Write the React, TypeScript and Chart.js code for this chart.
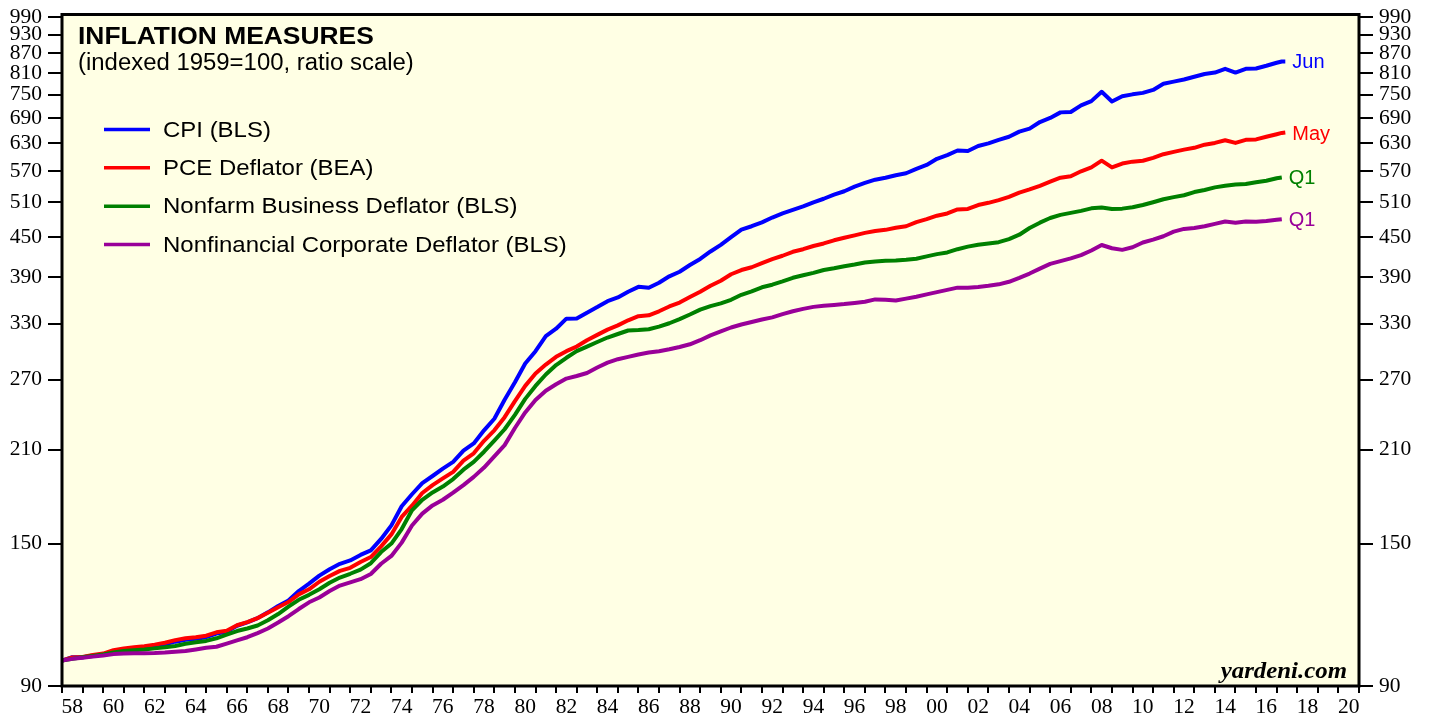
import React, { useEffect, useRef } from "react";
import { Chart, registerables } from "chart.js";

Chart.register(...registerables);

// ---------- DATA ----------
const periods = [
  1958, 1958.5, 1959, 1959.5, 1960, 1960.5, 1961, 1961.5, 1962, 1962.5,
  1963, 1963.5, 1964, 1964.5, 1965, 1965.5, 1966, 1966.5, 1967, 1967.5,
  1968, 1968.5, 1969, 1969.5, 1970, 1970.5, 1971, 1971.5, 1972, 1972.5,
  1973, 1973.5, 1974, 1974.5, 1975, 1975.5, 1976, 1976.5, 1977, 1977.5,
  1978, 1978.5, 1979, 1979.5, 1980, 1980.5, 1981, 1981.5, 1982, 1982.5,
  1983, 1983.5, 1984, 1984.5, 1985, 1985.5, 1986, 1986.5, 1987, 1987.5,
  1988, 1988.5, 1989, 1989.5, 1990, 1990.5, 1991, 1991.5, 1992, 1992.5,
  1993, 1993.5, 1994, 1994.5, 1995, 1995.5, 1996, 1996.5, 1997, 1997.5,
  1998, 1998.5, 1999, 1999.5, 2000, 2000.5, 2001, 2001.5, 2002, 2002.5,
  2003, 2003.5, 2004, 2004.5, 2005, 2005.5, 2006, 2006.5, 2007, 2007.5,
  2008, 2008.5, 2009, 2009.5, 2010, 2010.5, 2011, 2011.5, 2012, 2012.5,
  2013, 2013.5, 2014, 2014.5, 2015, 2015.5, 2016, 2016.5, 2017, 2017.25,
  2017.42,
];

const cpi = [
  98.6, 99.8, 99.8, 100.4, 100.8, 101.7, 102.3, 102.7, 103.1, 103.8,
  104.5, 105.5, 106.2, 106.6, 107.2, 108.6, 109.3, 111.7, 113.1, 114.8,
  117.2, 119.9, 122.3, 126.5, 129.9, 133.7, 136.8, 139.5, 141.2, 144.0,
  146.4, 152.5, 160.1, 171.5, 179.0, 186.3, 191.1, 196.2, 201.0, 209.3,
  214.8, 225.1, 234.7, 251.2, 267.4, 286.0, 299.0, 315.5, 324.1, 336.0,
  336.1, 343.3, 350.2, 357.7, 362.5, 370.1, 376.6, 375.3, 382.1, 391.1,
  397.6, 407.2, 416.2, 427.5, 437.8, 450.0, 462.5, 468.0, 474.6, 482.8,
  490.0, 496.2, 502.4, 510.0, 516.5, 524.1, 530.6, 539.5, 546.7, 553.0,
  557.0, 562.0, 566.0, 575.0, 583.0, 596.0, 604.0, 614.0, 613.0, 624.0,
  630.0, 638.0, 645.0, 657.0, 664.0, 680.0, 690.0, 704.0, 705.0, 722.0,
  733.0, 758.0, 732.0, 746.0, 751.0, 755.0, 763.0, 780.0, 786.0, 792.0,
  800.0, 808.0, 812.0, 823.0, 812.0, 823.0, 824.0, 832.0, 841.0, 845.0,
  845.0,
];

const pce = [
  98.6, 99.7, 99.9, 100.6, 101.1, 102.3, 103.0, 103.4, 103.8, 104.4,
  105.1, 106.1, 106.8, 107.2, 107.8, 109.1, 109.7, 111.9, 113.2, 114.8,
  117.0, 119.4, 121.6, 125.0, 127.3, 130.8, 133.5, 136.0, 137.5, 140.4,
  142.9, 148.5, 155.0, 165.0, 171.8, 179.8, 185.0, 189.5, 194.0, 202.0,
  207.3, 216.8, 225.1, 236.0, 250.0, 264.0, 276.0, 285.0, 293.0, 299.0,
  304.0, 311.0, 317.0, 323.0, 328.0, 334.0, 339.0, 340.0, 345.0, 351.0,
  356.0, 363.0, 370.0, 378.0, 385.0, 394.0, 400.0, 404.0, 410.0, 416.0,
  421.0, 427.0, 431.0, 436.0, 440.0, 445.0, 449.0, 453.0, 457.0, 460.0,
  462.0, 465.5, 468.0, 475.0, 480.0, 486.0, 490.0, 497.0, 498.0, 505.0,
  509.0, 514.0, 520.0, 528.0, 534.0, 541.0, 549.0, 557.0, 560.0, 570.0,
  578.0, 592.0, 578.0, 586.0, 590.0, 592.0, 598.0, 606.0, 611.0, 616.0,
  620.0, 627.0, 631.0, 637.0, 631.0, 638.0, 639.0, 645.0, 651.0, 654.0,
  655.0,
];

const nonfarmBusiness = [
  98.6, 99.2, 99.8, 100.2, 100.8, 101.5, 102.0, 102.3, 102.6, 103.0,
  103.4, 103.9, 104.7, 105.3, 105.8, 106.8, 108.2, 109.6, 110.6, 111.8,
  113.9, 116.5, 119.6, 122.6, 124.8, 127.3, 130.3, 132.8, 134.6, 136.6,
  139.8, 145.5, 150.0, 158.0, 169.0, 175.5, 180.2, 184.0, 189.0, 195.5,
  201.0, 208.5, 217.0, 226.0, 238.0, 252.0, 264.0, 275.0, 284.5, 292.0,
  299.0, 304.0, 309.0, 314.0, 318.0, 322.0, 322.5, 323.5, 326.5, 330.5,
  335.5, 341.0, 347.0, 351.5, 355.0, 359.5, 366.0, 370.5, 376.0, 379.5,
  384.0, 389.0, 392.5, 396.0, 400.0, 402.5, 405.5, 408.0, 411.0, 412.5,
  413.5, 414.0, 415.0, 416.5, 420.0, 423.5, 426.0, 431.0, 435.0, 438.0,
  440.0, 442.0, 447.0, 454.0, 465.0, 474.0, 482.0, 487.5, 491.0, 494.5,
  499.0, 500.5, 498.0, 498.5, 501.0, 505.0, 510.0, 515.5, 519.5, 523.0,
  529.0, 533.0, 538.0, 541.0, 543.5, 544.5, 548.0, 551.0, 556.0, 557.5,
  null,
];

const nonfinancialCorporate = [
  98.6, 99.2, 99.6, 100.0, 100.4, 100.9, 101.1, 101.2, 101.2, 101.3,
  101.5, 101.8, 102.0, 102.6, 103.2, 103.6, 104.8, 106.0, 107.2, 108.8,
  110.6, 113.0, 115.6, 118.6, 121.5, 123.6, 126.5, 129.0, 130.5, 132.0,
  134.5, 139.5, 143.5, 150.5, 160.0, 167.0, 172.0, 175.5, 180.0, 185.0,
  190.5, 197.0, 205.0, 213.5, 227.0, 240.0, 251.0, 259.5, 265.5, 271.0,
  273.5, 276.5, 282.0, 287.0, 290.5, 293.0, 295.5, 297.5, 299.0, 301.0,
  303.5, 306.5, 311.0, 316.5, 321.0, 325.5, 329.0, 332.0, 335.0, 337.5,
  341.5, 345.0, 348.0, 350.5, 352.0, 353.0, 354.0, 355.5, 357.0, 360.0,
  359.5, 358.5, 361.0, 363.5, 366.5, 369.5, 372.5, 375.5, 375.5, 376.5,
  378.0, 380.0, 383.5, 389.0, 395.0, 402.0, 409.0, 413.0, 417.0, 422.0,
  429.0, 437.5, 432.5, 430.0, 434.0, 441.5, 446.0, 451.5, 459.0, 463.5,
  465.0, 468.0, 472.0, 476.0, 474.0, 476.0, 475.5, 477.0, 479.0, 480.0,
  null,
];

const seriesNames = [
  "CPI (BLS)",
  "PCE Deflator (BEA)",
  "Nonfarm Business Deflator (BLS)",
  "Nonfinancial Corporate Deflator (BLS)",
];
const seriesColors = ["#0000FF", "#FF0000", "#008000", "#990099"];
const endLabels = ["Jun", "May", "Q1", "Q1"];

const yTickValues = [90, 150, 210, 270, 330, 390, 450, 510, 570, 630, 690, 750, 810, 870, 930, 990];
const xLabelYears = [
  1958, 1960, 1962, 1964, 1966, 1968, 1970, 1972, 1974, 1976, 1978, 1980, 1982, 1984, 1986, 1988,
  1990, 1992, 1994, 1996, 1998, 2000, 2002, 2004, 2006, 2008, 2010, 2012, 2014, 2016, 2018, 2020,
];
const xTickLabels = [
  "58", "60", "62", "64", "66", "68", "70", "72", "74", "76", "78", "80", "82", "84", "86", "88",
  "90", "92", "94", "96", "98", "00", "02", "04", "06", "08", "10", "12", "14", "16", "18", "20",
];

const titleText = "INFLATION MEASURES";
const subtitleText = "(indexed 1959=100, ratio scale)";
const sourceText = "yardeni.com";

// ---------- STYLE ----------
const BG = "#FFFFE4";
const SANS = '"Liberation Sans", Arial, Helvetica, sans-serif';
const SERIF = '"Liberation Serif", "Times New Roman", serif';

function stretchedText(ctx: CanvasRenderingContext2D, text: string, x: number, y: number, sx: number, align: CanvasTextAlign = "left") {
  ctx.save();
  ctx.translate(x, y);
  ctx.scale(sx, 1);
  ctx.textAlign = align;
  ctx.fillText(text, 0, 0);
  ctx.restore();
}

const decorPlugin = {
  id: "decor",
  beforeDraw(chart: any) {
    const { ctx, chartArea: a } = chart;
    ctx.save();
    ctx.fillStyle = BG;
    ctx.fillRect(a.left, a.top, a.right - a.left, a.bottom - a.top);
    ctx.restore();
  },
  afterDatasetsDraw(chart: any) {
    const { ctx, chartArea: a } = chart;
    ctx.save();
    ctx.strokeStyle = "#000";
    ctx.lineWidth = 3;
    ctx.strokeRect(a.left, a.top, a.right - a.left, a.bottom - a.top);
    ctx.restore();
  },
  afterDraw(chart: any) {
    const { ctx } = chart;
    ctx.save();
    ctx.fillStyle = "#000";
    ctx.textBaseline = "alphabetic";
    ctx.font = `bold 24px ${SANS}`;
    stretchedText(ctx, titleText, 78, 43.5, 1.1);
    ctx.font = `23px ${SANS}`;
    stretchedText(ctx, subtitleText, 78, 70, 1.04);

    // legend
    ctx.textBaseline = "middle";
    ctx.font = `22px ${SANS}`;
    seriesNames.forEach((name, i) => {
      const y = 129.5 + i * 38.35;
      ctx.strokeStyle = seriesColors[i];
      ctx.lineWidth = 3.5;
      ctx.beginPath();
      ctx.moveTo(104, y);
      ctx.lineTo(150, y);
      ctx.stroke();
      ctx.fillStyle = "#000";
      stretchedText(ctx, name, 163, y + 1, 1.09);
    });

    // end labels next to the last point of each series
    ctx.font = `20px ${SANS}`;
    seriesNames.forEach((_, i) => {
      const meta = chart.getDatasetMeta(i);
      const pts = meta.data;
      let last: any = null;
      for (let k = pts.length - 1; k >= 0; k--) {
        if (!pts[k].skip && isFinite(pts[k].y)) { last = pts[k]; break; }
      }
      if (!last) return;
      ctx.fillStyle = seriesColors[i];
      stretchedText(ctx, endLabels[i], last.x + 7, last.y + 1.5, 1.0);
    });

    // source
    ctx.fillStyle = "#000";
    ctx.textBaseline = "alphabetic";
    ctx.font = `italic bold 23px ${SERIF}`;
    stretchedText(ctx, sourceText, 1347, 678, 1.08, "right");
    ctx.restore();
  },
};

export default function App() {
  const canvasRef = useRef<HTMLCanvasElement | null>(null);

  useEffect(() => {
    const canvas = canvasRef.current;
    if (!canvas) return;
    const seriesValues = [cpi, pce, nonfarmBusiness, nonfinancialCorporate];
    const drawOrder = [3, 2, 1, 0];
    const datasets = seriesValues.map((vals, i) => ({
      label: seriesNames[i],
      data: periods
        .map((p, k) => ({ x: p, y: vals[k] }))
        .filter((d) => d.y !== null && d.y !== undefined),
      borderColor: seriesColors[i],
      backgroundColor: seriesColors[i],
      borderWidth: 4,
      borderJoinStyle: "round",
      pointRadius: 0,
      tension: 0,
      fill: false,
      order: drawOrder[i],
      yAxisID: "y",
      xAxisID: "x",
    }));

    const tickFont = { family: SERIF, size: 21.5 };

    const chart = new Chart(canvas, {
      type: "line",
      data: { datasets },
      options: {
        responsive: false,
        animation: false,
        devicePixelRatio: 1,
        layout: { padding: { top: 14.5, left: 0, right: 0, bottom: 0 } },
        plugins: {
          legend: { display: false },
          tooltip: { enabled: false },
          title: { display: false },
        },
        scales: {
          x: {
            type: "linear",
            min: 1958,
            max: 2021,
            afterBuildTicks: (s: any) => {
              const t: any[] = [];
              for (let yv = 1958; yv <= 2021; yv++) t.push({ value: yv });
              xLabelYears.forEach((yv) => t.push({ value: yv + 0.5 }));
              t.sort((a, b) => a.value - b.value);
              s.ticks = t;
            },
            afterFit: (s: any) => {
              s.height = 31;
              s.paddingLeft = 0;
              s.paddingRight = 0;
            },
            grid: {
              drawOnChartArea: false,
              drawTicks: true,
              tickLength: 7,
              lineWidth: 2,
              color: (c: any) =>
                c.tick && Number.isInteger(c.tick.value) ? "#000" : "rgba(0,0,0,0)",
            },
            border: { display: false },
            ticks: {
              autoSkip: false,
              maxRotation: 0,
              minRotation: 0,
              padding: 1.5,
              color: "#000",
              font: tickFont,
              callback: (v: any) => {
                const i = xLabelYears.indexOf(Number(v) - 0.5);
                return i >= 0 ? xTickLabels[i] : "";
              },
            },
          },
          y: {
            type: "logarithmic",
            position: "left",
            min: 90,
            max: 1000,
            afterBuildTicks: (s: any) => {
              s.ticks = yTickValues.map((v) => ({ value: v }));
            },
            afterFit: (s: any) => {
              s.width = 62;
              s.paddingTop = 0;
              s.paddingBottom = 0;
            },
            grid: { drawOnChartArea: false, drawTicks: true, tickLength: 14, lineWidth: 2, color: "#000" },
            border: { display: false },
            ticks: { padding: 6, color: "#000", font: tickFont, autoSkip: false, callback: (v: any) => String(v) },
          },
          y2: {
            type: "logarithmic",
            position: "right",
            min: 90,
            max: 1000,
            afterBuildTicks: (s: any) => {
              s.ticks = yTickValues.map((v) => ({ value: v }));
            },
            afterFit: (s: any) => {
              s.width = 72;
              s.paddingTop = 0;
              s.paddingBottom = 0;
            },
            grid: { drawOnChartArea: false, drawTicks: true, tickLength: 14, lineWidth: 2, color: "#000" },
            border: { display: false },
            ticks: { padding: 6, color: "#000", font: tickFont, autoSkip: false, callback: (v: any) => String(v) },
          },
        },
      },
      plugins: [decorPlugin],
    } as any);

    return () => chart.destroy();
  }, []);

  return (
    <div style={{ position: "absolute", left: 0, top: 0, width: 1431, height: 717, background: "#fff" }}>
      <canvas ref={canvasRef} width={1431} height={717} style={{ display: "block" }} />
    </div>
  );
}
